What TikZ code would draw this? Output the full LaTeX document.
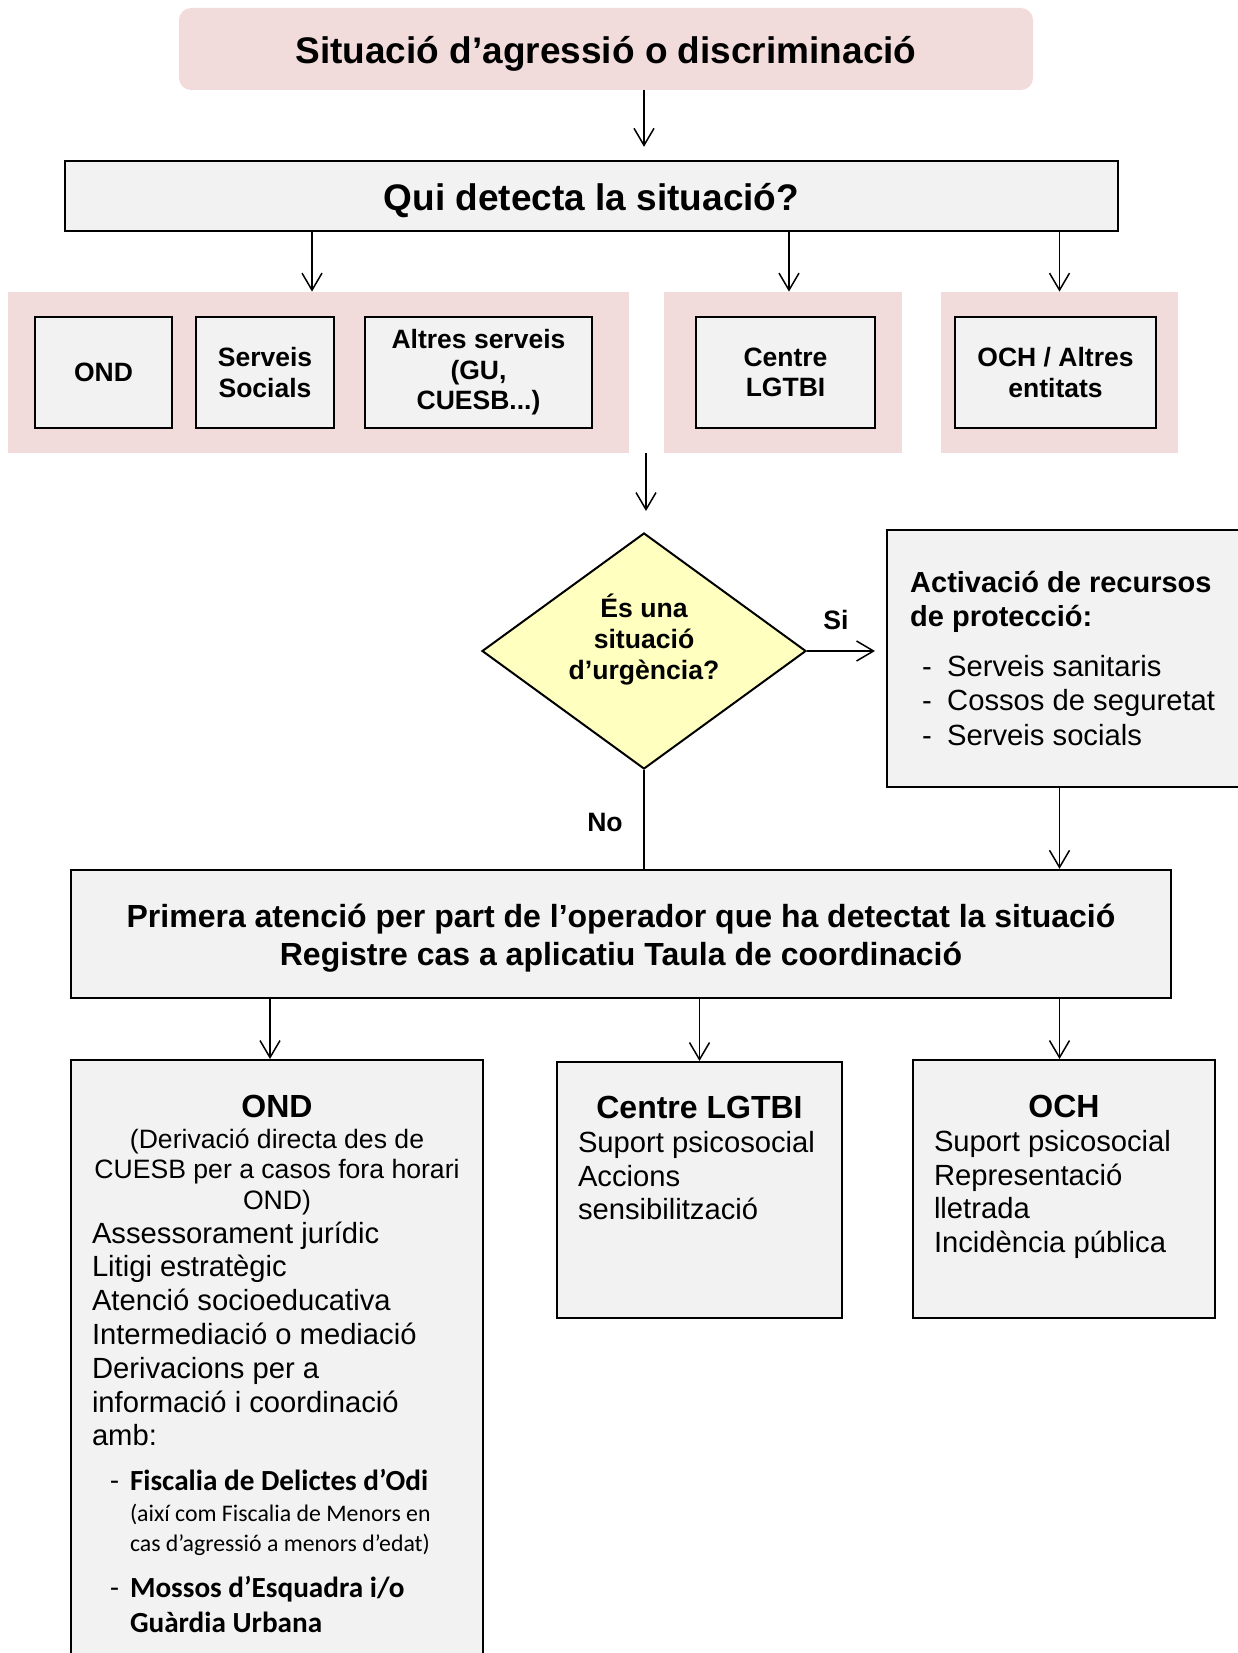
\documentclass[tikz,border=0pt]{standalone}
\usepackage{fontspec}
\setmainfont{Liberation Sans}
\newfontfamily\calibri{Carlito}
\usepackage{tikz}
\usetikzlibrary{arrows.meta}
\usetikzlibrary{calc}
\usetikzlibrary{shapes.geometric}
\definecolor{pinkbg}{HTML}{F2DCDB}
\definecolor{boxgrey}{HTML}{F2F2F2}
\definecolor{urgyellow}{HTML}{FFFFC0}
\tikzset{
	titlestyle/.style={rectangle,rounded corners=6pt,fill=pinkbg,text height=17pt,text depth=2.2pt,font=\bfseries\fontsize{18.5}{22}\selectfont},
	groupstyle/.style={rectangle,fill=pinkbg,minimum height=80.5pt},
	boxstyle/.style={rectangle,draw=black,line width=1.2pt,fill=boxgrey},
	whostyle/.style={boxstyle,minimum height=55.5pt,inner sep=2pt,align=center,font=\bfseries\fontsize{13.25}{15.3}\selectfont},
	questionstyle/.style={diamond,aspect=1.37,draw=black,line width=1pt,fill=urgyellow,inner sep=0pt,minimum width=162pt,minimum height=118pt,align=center,font=\bfseries\fontsize{13.3}{15.3}\selectfont},
	servicestyle/.style={boxstyle,inner sep=0pt,inner xsep=10.5pt,anchor=north},
	answerstyle/.style={font=\bfseries\fontsize{13.3}{15.3}\selectfont},
	arrowstyle/.style={-{Straight Barb[length=8.5pt,width=10pt]},line width=0.75pt}
}
\newcommand{\servicehead}[1]{{\centering\bfseries\fontsize{16}{19}\selectfont #1\par}}
\newcommand{\serviceitems}{\fontsize{14.6}{16.9}\selectfont}
\newcommand{\protdash}{\hspace*{6pt}\makebox[12.5pt][l]{-}}
\newcommand{\ondbullet}{\noindent\llap{-\hspace{5.5pt}}}

\begin{document}
\begin{tikzpicture}[x=0.5pt,y=-0.5pt]
	\useasboundingbox (0,0) rectangle (1237,1653);
	\node[titlestyle,minimum width=427pt,minimum height=41pt] (sit) at (606,49) {Situació d’agressió o discriminació};
	\node[boxstyle,minimum width=526.5pt,minimum height=35pt,inner ysep=2pt,text height=17pt,text depth=2.2pt,font=\bfseries\fontsize{18.5}{22}\selectfont] (qui) at (591.5,196) {Qui detecta la situació?};
	\node[groupstyle,minimum width=310.5pt] (grpa) at (318.5,372.5) {};
	\node[groupstyle,minimum width=119pt] (grpb) at (783,372.5) {};
	\node[groupstyle,minimum width=118.5pt] (grpc) at (1059.5,372.5) {};
	\node[whostyle,minimum width=68.5pt] (ondw) at (103.5,372.5) {OND};
	\node[whostyle,minimum width=69pt] (ssw) at (265,372.5) {Serveis\\Socials};
	\node[whostyle,minimum width=113.5pt] (altw) at (478.5,372.5) {Altres serveis\\(GU,\\CUESB...)};
	\node[whostyle,minimum width=89.5pt] (lgw) at (785.5,372.5) {Centre\\LGTBI};
	\node[whostyle,minimum width=100.5pt] (ochw) at (1055.5,372.5) {OCH / Altres\\entitats};
	\coordinate (split) at (646,453);
	\node[questionstyle] (urg) at (644,651) {És una\\situació\\d’urgència?\\[-1pt]\mbox{}};
	\node[boxstyle,anchor=west,minimum height=128.5pt,inner xsep=11.5pt] (act) at (886,658.5) {\begin{minipage}{160pt}
		{\bfseries\fontsize{14.5}{16.8}\selectfont Activació de recursos\\de protecció:\par}
		\vspace{8pt}
		\fontsize{14.6}{17.1}\selectfont\protdash Serveis sanitaris\\\protdash Cossos de seguretat\\\protdash Serveis socials
		\end{minipage}};
	\node[answerstyle] (si) at (836,620) {Si};
	\node[answerstyle] (no) at (605,822) {No};
	\node[boxstyle,minimum width=550pt,minimum height=64pt,align=center,font=\bfseries\fontsize{16}{19}\selectfont] (prim) at (621,934) {\mbox{}\\[-3.5pt]Primera atenció per part de l’operador que ha detectat la situació\\Registre cas a aplicatiu Taula de coordinació};
	\node[servicestyle] (ond) at (277,1059) {\begin{minipage}[c][310pt][t]{185pt}
		\vspace*{17.5pt}
		\servicehead{OND}
		{\centering\fontsize{13.3}{15.3}\selectfont (Derivació directa des de\\\mbox{CUESB per a casos fora horari}\\OND)\par}
		\serviceitems Assessorament jurídic\\Litigi estratègic\\Atenció socioeducativa\\Intermediació o mediació\\Derivacions per a\\informació i coordinació\\amb:\par
		\calibri\leftskip=19pt
		\vspace{5pt}
		{\fontsize{14.6}{17.5}\selectfont\ondbullet\textbf{Fiscalia de Delictes d’Odi}\par}
		{\fontsize{11.9}{15.2}\selectfont (així com Fiscalia de Menors en\\cas d’agressió a menors d’edat)\par}
		\vspace{5.5pt}
		{\fontsize{14.6}{17.5}\selectfont\ondbullet\textbf{Mossos d’Esquadra i/o\\Guàrdia Urbana}\par}
		\end{minipage}};
	\node[servicestyle] (lgb) at (699.5,1061) {\begin{minipage}[c][128pt][t]{121.5pt}
		\vspace*{17pt}
		\servicehead{Centre LGTBI}
		\serviceitems Suport psicosocial\\Accions\\sensibilització
		\end{minipage}};
	\node[servicestyle] (och) at (1064,1059) {\begin{minipage}[c][129pt][t]{130pt}
		\vspace*{17.5pt}
		\servicehead{OCH}
		\serviceitems Suport psicosocial\\Representació\\lletrada\\Incidència pública
		\end{minipage}};
	\draw[arrowstyle,shorten >=6.5pt] (sit.south -| urg) -- (qui.north -| urg);
	\draw[arrowstyle] ($(qui.south -| grpa)+(-6.5,0)$) -- ($(grpa.north)+(-6.5,0)$);
	\draw[arrowstyle] ($(qui.south -| grpb)+(6,0)$) -- ($(grpb.north)+(6,0)$);
	\draw[arrowstyle] (qui.south -| grpc) -- (grpc.north);
	\draw[arrowstyle,shorten >=10.5pt] (split) -- (split |- urg.north);
	\draw[arrowstyle,shorten >=5.5pt] (urg.east) -- (urg.east -| act.west);
	\draw[line width=0.75pt] (urg.south) -- (urg.south |- prim.north);
	\draw[arrowstyle] (act.south -| grpc) -- (grpc |- prim.north);
	\draw[arrowstyle] ($(prim.south -| ond.north)+(-7,0)$) -- ($(ond.north)+(-7,0)$);
	\draw[arrowstyle] (prim.south -| lgb.north) -- (lgb.north);
	\draw[arrowstyle] (prim.south -| grpc) -- (grpc |- och.north);
\end{tikzpicture}
\end{document}
